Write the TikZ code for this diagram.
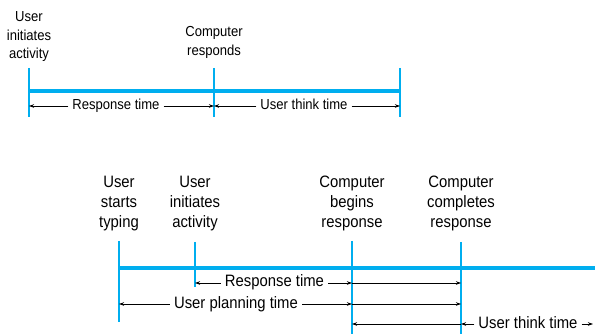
\documentclass[tikz,border=0pt]{standalone}
\usepackage{fontspec}
\setmainfont[FakeStretch=0.9]{Liberation Sans}
\usetikzlibrary{arrows.meta}
\definecolor{tl}{RGB}{0,174,239}
\begin{document}
\begin{tikzpicture}[x=1pt,y=-1pt,
  tick/.style={draw=tl,line width=1.3pt},
  bar/.style={draw=tl,line width=4.5pt},
  arr/.style={draw=black,line width=0.8pt,-{Stealth[length=5pt,width=3.5pt]}},
  lbl/.style={align=center,inner sep=0pt,font=\fontsize{14.5}{18.5}\selectfont},
  blbl/.style={align=center,inner sep=0pt,font=\fontsize{16.5}{20.3}\selectfont},
  tlab/.style={inner sep=4pt,text height=10pt,text depth=3pt,font=\fontsize{14.5}{15}\selectfont},
  btlab/.style={inner sep=4pt,text height=11.5pt,text depth=3.5pt,font=\fontsize{16.5}{17}\selectfont}]
\useasboundingbox (0,0) rectangle (595,334);
% ---------- top diagram ----------
\coordinate (a1t) at (29,68);  \coordinate (a1b) at (29,117);
\coordinate (a2t) at (214,68); \coordinate (a2b) at (214,117);
\coordinate (a3t) at (400,68); \coordinate (a3b) at (400,117);
\coordinate (a1m) at (29,91);  \coordinate (a3m) at (400,91);
\coordinate (a1r) at (29,106); \coordinate (a2r) at (214,106); \coordinate (a3r) at (400,106);
\draw[tick] (a1t) -- (a1b);
\draw[tick] (a2t) -- (a2b);
\draw[tick] (a3t) -- (a3b);
\draw[bar] (a1m) -- (a3m);
\node[lbl] (l1) at (29,37) {User\\initiates\\activity};
\node[lbl] (l2) at (214,42.5) {Computer\\responds};
\node[tlab] (rt1) at (116,106) {Response time};
\draw[arr] (rt1.west) -- (a1r);
\draw[arr] (rt1.east) -- (a2r);
\node[tlab] (ut1) at (304,106) {User think time};
\draw[arr] (ut1.west) -- (a2r);
\draw[arr] (ut1.east) -- (a3r);
% ---------- bottom diagram ----------
\coordinate (b1t) at (119,241); \coordinate (b1b) at (119,322);
\coordinate (b2t) at (195,242); \coordinate (b2b) at (195,287);
\coordinate (b3t) at (352,241); \coordinate (b3b) at (352,334);
\coordinate (b4t) at (461,242); \coordinate (b4b) at (461,334);
\coordinate (b1m) at (119,268); \coordinate (bend) at (595,268);
\draw[tick] (b1t) -- (b1b);
\draw[tick] (b2t) -- (b2b);
\draw[tick] (b3t) -- (b3b);
\draw[tick] (b4t) -- (b4b);
\draw[bar,line width=4pt] (b1m) -- (bend);
\node[blbl] (m1) at (119,203.5) {User\\starts\\typing};
\node[blbl] (m2) at (195,203.5) {User\\initiates\\activity};
\node[blbl] (m3) at (352,203.5) {Computer\\begins\\response};
\node[blbl] (m4) at (461,203.5) {Computer\\completes\\response};
% response time
\coordinate (b2r) at (195,283); \coordinate (b3r) at (352,283); \coordinate (b4r) at (461,283);
\node[btlab] (rt2) at (274.5,283) {Response time};
\draw[arr] (rt2.west) -- (b2r);
\draw[arr] (rt2.east) -- (b3r);
\draw[arr] (b3r) -- (b4r);
% user planning time
\coordinate (b1p) at (119,304); \coordinate (b3p) at (352,304); \coordinate (b4p) at (461,304);
\node[btlab] (pt2) at (236,304) {User planning time};
\draw[arr] (pt2.west) -- (b1p);
\draw[arr] (pt2.east) -- (b3p);
\draw[arr] (b3p) -- (b4p);
% user think time
\coordinate (b3u) at (352,324); \coordinate (b4u) at (461,324); \coordinate (endu) at (593,324);
\node[btlab] (ut2) at (528,324) {User think time};
\draw[arr] (b4u) -- (b3u);
\draw[arr] (ut2.west) -- (b4u);
\draw[arr] (ut2.east) -- (endu);
\end{tikzpicture}
\end{document}
